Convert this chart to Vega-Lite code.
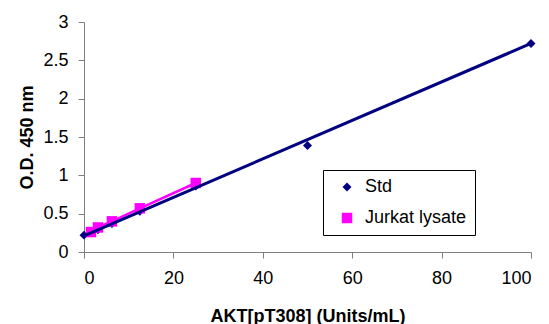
{
  "$schema": "https://vega.github.io/schema/vega-lite/v6.json",
  "width": 447,
  "height": 230,
  "autosize": {"type": "none"},
  "padding": {"left": 84, "top": 22, "right": 18, "bottom": 72},
  "background": "white",
  "config": {
    "view": {"stroke": null},
    "font": "Liberation Sans",
    "axis": {
      "grid": false,
      "domainColor": "#808080",
      "tickColor": "#808080",
      "tickSize": 6,
      "labelColor": "black",
      "labelFont": "Liberation Sans",
      "labelFontSize": 18,
      "labelOverlap": false,
      "titleFont": "Liberation Sans",
      "titleFontSize": 18,
      "titleFontWeight": "bold",
      "titleColor": "black"
    }
  },
  "datasets": {
    "pts": [
      {"series": "Std", "x": 0, "y": 0.22},
      {"series": "Std", "x": 1.5625, "y": 0.25},
      {"series": "Std", "x": 3.125, "y": 0.29},
      {"series": "Std", "x": 6.25, "y": 0.37},
      {"series": "Std", "x": 12.5, "y": 0.53},
      {"series": "Std", "x": 25, "y": 0.86},
      {"series": "Std", "x": 50, "y": 1.39},
      {"series": "Std", "x": 100, "y": 2.72},
      {"series": "Jurkat lysate", "x": 1.5625, "y": 0.26},
      {"series": "Jurkat lysate", "x": 3.125, "y": 0.32},
      {"series": "Jurkat lysate", "x": 6.25, "y": 0.4},
      {"series": "Jurkat lysate", "x": 12.5, "y": 0.57},
      {"series": "Jurkat lysate", "x": 25, "y": 0.9}
    ],
    "trend": [
      {"x": 0, "y": 0.21},
      {"x": 100, "y": 2.72}
    ]
  },
  "encoding": {
    "x": {"field": "x", "type": "quantitative", "scale": {"domain": [0, 100], "nice": false},
      "axis": {"values": [0, 20, 40, 60, 80, 100], "title": "AKT[pT308] (Units/mL)", "labelPadding": 11, "titlePadding": 20}},
    "y": {"field": "y", "type": "quantitative", "scale": {"domain": [0, 3], "nice": false},
      "axis": {"values": [0, 0.5, 1, 1.5, 2, 2.5, 3], "format": ".1~f", "title": "O.D. 450 nm", "labelPadding": 10, "titlePadding": 6}}
  },
  "layer": [
    {
      "data": {"name": "pts"},
      "transform": [{"filter": "datum.series === 'Jurkat lysate'"}],
      "mark": {"type": "line", "color": "#FF00FF", "strokeWidth": 2.5}
    },
    {
      "data": {"name": "pts"},
      "mark": {"type": "point", "filled": true, "opacity": 1},
      "encoding": {
        "color": {"field": "series", "type": "nominal",
          "scale": {"domain": ["Std", "Jurkat lysate"], "range": ["#000080", "#FF00FF"]},
          "legend": {"title": null, "orient": "none", "legendX": 239, "legendY": 148,
            "fillColor": "white", "strokeColor": "black", "padding": 8,
            "labelFont": "Liberation Sans", "labelFontSize": 18, "labelColor": "black",
            "symbolSize": 100, "symbolOffset": 7, "rowPadding": 13, "labelOffset": 9, "symbolStrokeWidth": 0}},
        "shape": {"field": "series", "type": "nominal",
          "scale": {"domain": ["Std", "Jurkat lysate"], "range": ["diamond", "square"]}},
        "size": {"field": "series", "type": "nominal",
          "scale": {"domain": ["Std", "Jurkat lysate"], "range": [80, 110]}, "legend": null}
      }
    },
    {
      "data": {"name": "trend"},
      "mark": {"type": "line", "color": "#000080", "strokeWidth": 3}
    }
  ]
}
